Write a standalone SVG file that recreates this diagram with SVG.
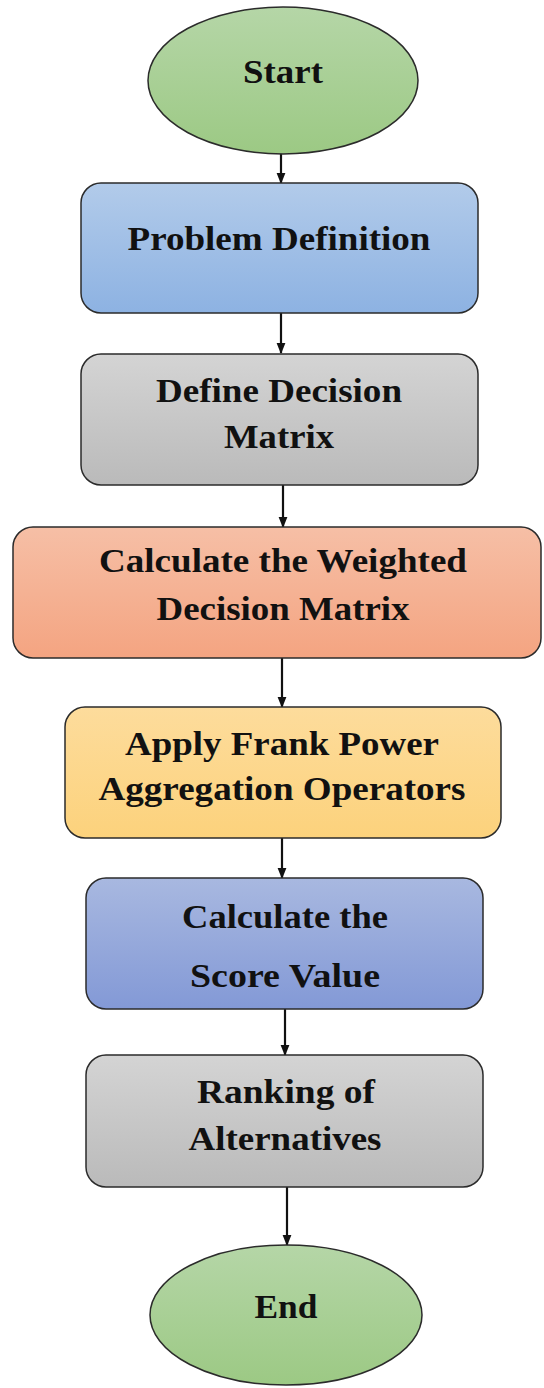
<svg xmlns="http://www.w3.org/2000/svg" width="544" height="1388" viewBox="0 0 544 1388">
<style>
.n{stroke:#2b2b2b;stroke-width:1.5}
.t{font-family:"Liberation Serif","Times New Roman",serif;font-weight:bold;font-size:33px;fill:#111;text-anchor:middle}
.c{stroke:#111;stroke-width:2.2;fill:none;marker-end:url(#ah)}
</style>
<defs>
<marker id="ah" viewBox="0 0 10 10" refX="9" refY="5" markerWidth="5" markerHeight="5" orient="auto" markerUnits="strokeWidth">
<path d="M0,1 L10,5 L0,9 z" fill="#111"/>
</marker>
<linearGradient id="gG" x1="0" y1="0" x2="0" y2="1"><stop offset="0" stop-color="#b5d6a7"/><stop offset="1" stop-color="#9cc984"/></linearGradient>
<linearGradient id="gB" x1="0" y1="0" x2="0" y2="1"><stop offset="0" stop-color="#b2cbea"/><stop offset="1" stop-color="#8db2e2"/></linearGradient>
<linearGradient id="gS" x1="0" y1="0" x2="0" y2="1"><stop offset="0" stop-color="#d4d4d4"/><stop offset="1" stop-color="#bababa"/></linearGradient>
<linearGradient id="gO" x1="0" y1="0" x2="0" y2="1"><stop offset="0" stop-color="#f6bfa6"/><stop offset="1" stop-color="#f4a481"/></linearGradient>
<linearGradient id="gY" x1="0" y1="0" x2="0" y2="1"><stop offset="0" stop-color="#fddc9c"/><stop offset="1" stop-color="#fcd27c"/></linearGradient>
<linearGradient id="gP" x1="0" y1="0" x2="0" y2="1"><stop offset="0" stop-color="#a8b8e0"/><stop offset="1" stop-color="#8399d6"/></linearGradient>
</defs>
<g id="connectors">
<line class="c" x1="281" y1="146" x2="281" y2="183"/>
<line class="c" x1="281" y1="313" x2="281" y2="353"/>
<line class="c" x1="283" y1="485" x2="283" y2="527"/>
<line class="c" x1="282" y1="658" x2="282" y2="707"/>
<line class="c" x1="282" y1="838" x2="282" y2="878"/>
<line class="c" x1="285" y1="1009" x2="285" y2="1055"/>
<line class="c" x1="287" y1="1187" x2="287" y2="1245"/>
</g>
<g id="start">
<ellipse class="n" cx="283" cy="80.5" rx="135" ry="73.5" fill="url(#gG)"/>
<text class="t" x="283" y="83" textLength="80" lengthAdjust="spacingAndGlyphs">Start</text>
</g>
<g id="problem">
<rect class="n" x="81" y="183" width="397" height="130" rx="20" fill="url(#gB)"/>
<text class="t" x="279" y="250" textLength="303" lengthAdjust="spacingAndGlyphs">Problem Definition</text>
</g>
<g id="define">
<rect class="n" x="81" y="354" width="397" height="131" rx="20" fill="url(#gS)"/>
<text class="t" x="279" y="402" textLength="246" lengthAdjust="spacingAndGlyphs">Define Decision</text>
<text class="t" x="279" y="448" textLength="110" lengthAdjust="spacingAndGlyphs">Matrix</text>
</g>
<g id="weighted">
<rect class="n" x="13" y="527" width="528" height="131" rx="20" fill="url(#gO)"/>
<text class="t" x="283" y="572" textLength="368" lengthAdjust="spacingAndGlyphs">Calculate the Weighted</text>
<text class="t" x="283" y="620" textLength="253" lengthAdjust="spacingAndGlyphs">Decision Matrix</text>
</g>
<g id="apply">
<rect class="n" x="65" y="707" width="436" height="131" rx="20" fill="url(#gY)"/>
<text class="t" x="282" y="755" textLength="314" lengthAdjust="spacingAndGlyphs">Apply Frank Power</text>
<text class="t" x="282" y="800" textLength="367" lengthAdjust="spacingAndGlyphs">Aggregation Operators</text>
</g>
<g id="score">
<rect class="n" x="86" y="878" width="397" height="131" rx="20" fill="url(#gP)"/>
<text class="t" x="285" y="928" textLength="206" lengthAdjust="spacingAndGlyphs">Calculate the</text>
<text class="t" x="285" y="987" textLength="190" lengthAdjust="spacingAndGlyphs">Score Value</text>
</g>
<g id="ranking">
<rect class="n" x="86" y="1055" width="397" height="132" rx="20" fill="url(#gS)"/>
<text class="t" x="286" y="1103" textLength="178" lengthAdjust="spacingAndGlyphs">Ranking of</text>
<text class="t" x="285" y="1150" textLength="193" lengthAdjust="spacingAndGlyphs">Alternatives</text>
</g>
<g id="end">
<ellipse class="n" cx="286" cy="1315" rx="136" ry="70" fill="url(#gG)"/>
<text class="t" x="286" y="1318" textLength="63" lengthAdjust="spacingAndGlyphs">End</text>
</g>
</svg>
